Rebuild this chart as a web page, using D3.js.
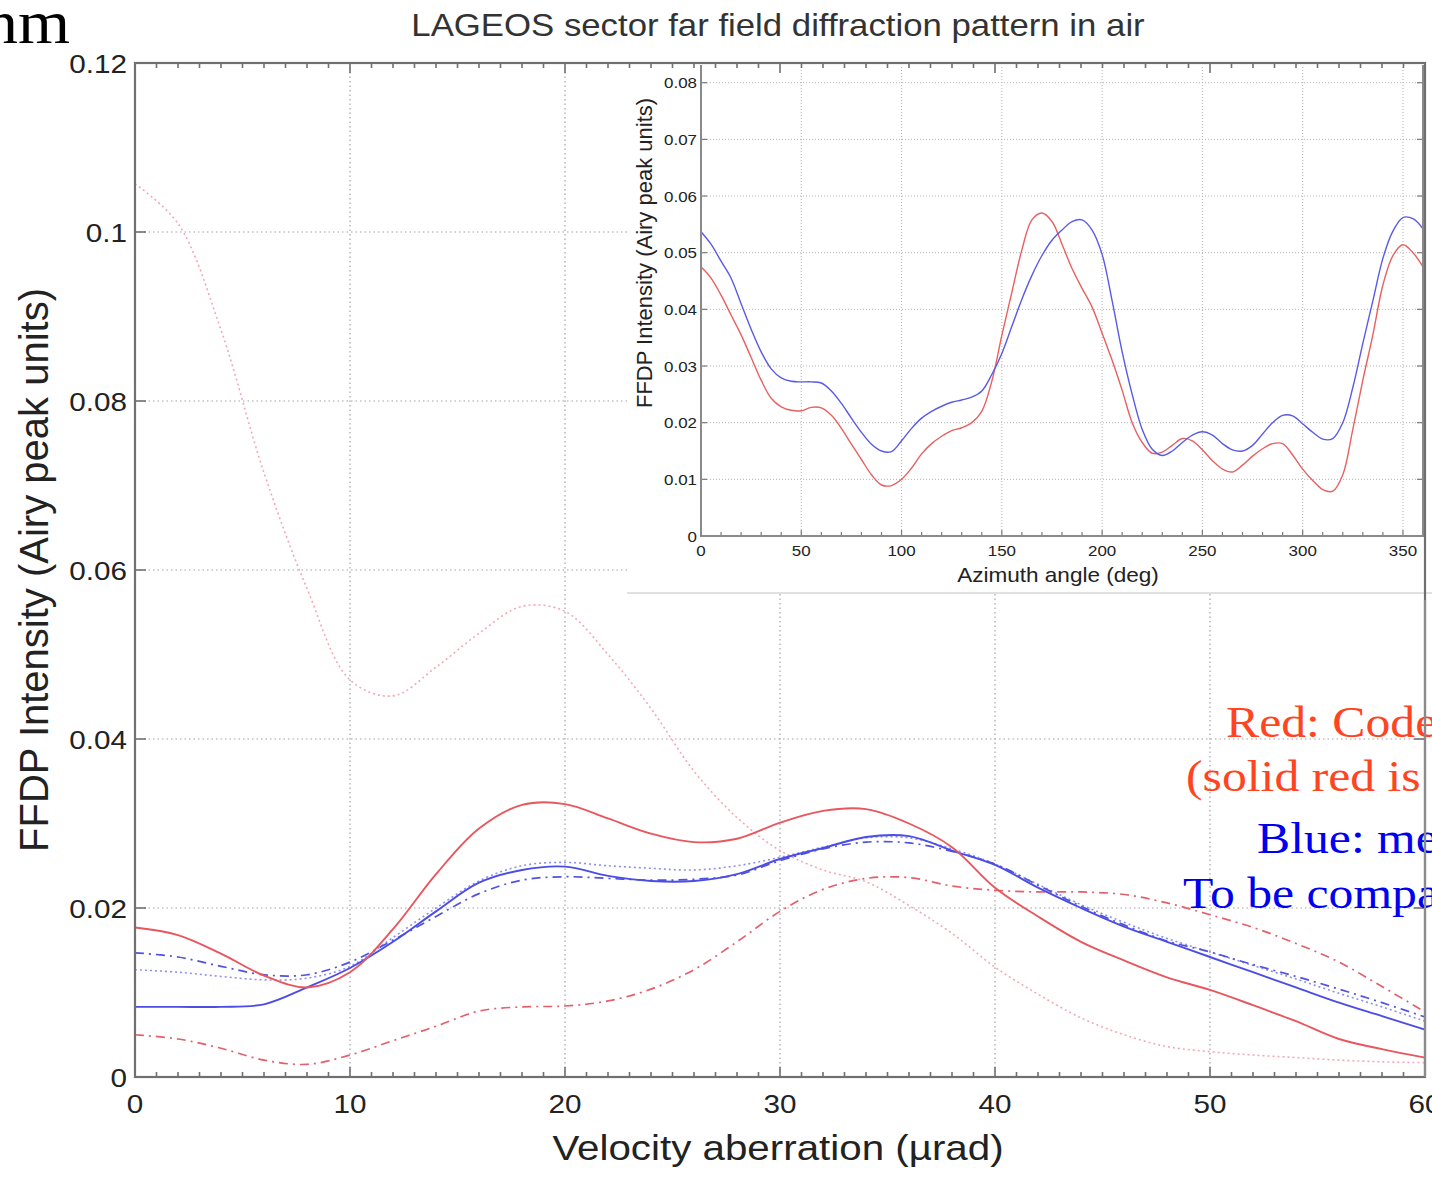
<!DOCTYPE html>
<html>
<head>
<meta charset="utf-8">
<script src="https://cdn.jsdelivr.net/npm/d3@7"></script>
<style>
  html, body { margin: 0; padding: 0; background: #fff; overflow: hidden; }
  svg text { font-family: "Liberation Sans", Arial, sans-serif; }
  svg text.serif { font-family: "Liberation Serif", "Times New Roman", serif; }
</style>
</head>
<body>
<script>
// ---- main plot data: velocity aberration (urad) vs FFDP intensity ----
const vaX = [0, 2, 4, 6, 8, 10, 12, 14, 16, 18, 20, 22, 24, 26, 28, 30,
             32, 34, 36, 38, 40, 42, 44, 46, 48, 50, 52, 54, 56, 58, 60];

const redSolid = [0.0177, 0.0168, 0.0146, 0.0120, 0.0106, 0.0124, 0.0175, 0.0240, 0.0294, 0.0322, 0.0323,
                  0.0306, 0.0288, 0.0278, 0.0282, 0.0301, 0.0315, 0.0317, 0.0300, 0.0272, 0.0224,
                  0.0190, 0.0160, 0.0138, 0.0118, 0.0103, 0.0085, 0.0066, 0.0045, 0.0033, 0.0023];
const redDashDot = [0.0050, 0.0045, 0.0034, 0.0020, 0.0015, 0.0026, 0.0043, 0.0060, 0.0078, 0.0083, 0.0084,
                    0.0090, 0.0104, 0.0127, 0.0160, 0.0196, 0.0222, 0.0235, 0.0236, 0.0226, 0.0221,
                    0.0219, 0.0219, 0.0216, 0.0206, 0.0192, 0.0177, 0.0158, 0.0136, 0.0107, 0.0077];
const redDotted = [0.1057, 0.1010, 0.0884, 0.0715, 0.0578, 0.0470, 0.0451, 0.0485, 0.0525, 0.0557, 0.0551,
                   0.0500, 0.0436, 0.0362, 0.0307, 0.0268, 0.0245, 0.0231, 0.0203, 0.0170, 0.0130,
                   0.0098, 0.0070, 0.0050, 0.0036, 0.0030, 0.0026, 0.0023, 0.0020, 0.0018, 0.0017];
const blueSolid = [0.0083, 0.0083, 0.0083, 0.0086, 0.0106, 0.0129, 0.0160, 0.0196, 0.0230, 0.0245, 0.0249,
                   0.0238, 0.0232, 0.0232, 0.0240, 0.0258, 0.0271, 0.0284, 0.0285, 0.0268, 0.0251,
                   0.0224, 0.0200, 0.0178, 0.0160, 0.0142, 0.0124, 0.0106, 0.0088, 0.0072, 0.0056];
const blueDashDot = [0.0147, 0.0142, 0.0131, 0.0121, 0.0121, 0.0136, 0.0162, 0.0190, 0.0217, 0.0233, 0.0237,
                     0.0235, 0.0233, 0.0234, 0.0239, 0.0256, 0.0270, 0.0278, 0.0277, 0.0267, 0.0252,
                     0.0227, 0.0202, 0.0180, 0.0161, 0.0148, 0.0133, 0.0119, 0.0104, 0.0088, 0.0071];
const blueDotted = [0.0127, 0.0124, 0.0119, 0.0115, 0.0117, 0.0131, 0.0165, 0.0200, 0.0232, 0.0250, 0.0254,
                    0.0250, 0.0247, 0.0245, 0.0250, 0.0260, 0.0272, 0.0283, 0.0283, 0.0270, 0.0252,
                    0.0228, 0.0204, 0.0183, 0.0164, 0.0148, 0.0132, 0.0116, 0.0099, 0.0083, 0.0066];

const mainXTicks = [0, 10, 20, 30, 40, 50, 60];
const mainYTicks = [0, 0.02, 0.04, 0.06, 0.08, 0.1, 0.12];

// ---- inset data: azimuth angle (deg) ----
const azimuth = [0, 5, 10, 15, 20, 25, 30, 35, 40, 45, 50, 55, 60, 65, 70, 75, 80, 85, 90, 95,
                 100, 105, 110, 115, 120, 125, 130, 135, 140, 145, 150, 155, 160, 165, 170, 175,
                 180, 185, 190, 195, 200, 205, 210, 215, 220, 225, 230, 235, 240, 245, 250, 255,
                 260, 265, 270, 275, 280, 285, 290, 295, 300, 305, 310, 315, 320, 325, 330, 335,
                 340, 345, 350, 355, 360];
const insetBlue = [0.0537, 0.0515, 0.0485, 0.0455, 0.0410, 0.0365, 0.0325, 0.0295, 0.0279, 0.0273,
                   0.0272, 0.0272, 0.0270, 0.0256, 0.0234, 0.0208, 0.0183, 0.0162, 0.0150, 0.0149,
                   0.0168, 0.0190, 0.0208, 0.0220, 0.0229, 0.0236, 0.0240, 0.0245, 0.0256, 0.0285,
                   0.0322, 0.0370, 0.0418, 0.0460, 0.0495, 0.0522, 0.0540, 0.0555, 0.0558, 0.0540,
                   0.0497, 0.0415, 0.0325, 0.0250, 0.0188, 0.0153, 0.0142, 0.0150, 0.0165, 0.0178,
                   0.0184, 0.0178, 0.0163, 0.0152, 0.0150, 0.0160, 0.0180, 0.0200, 0.0213, 0.0212,
                   0.0198, 0.0183, 0.0171, 0.0172, 0.0200, 0.0262, 0.0340, 0.0415, 0.0490, 0.0538,
                   0.0562, 0.0560, 0.0542];
const insetRed = [0.0475, 0.0455, 0.0425, 0.0390, 0.0355, 0.0315, 0.0275, 0.0243, 0.0228, 0.0222,
                  0.0221, 0.0227, 0.0226, 0.0213, 0.0190, 0.0162, 0.0135, 0.0108, 0.0090, 0.0089,
                  0.0100, 0.0120, 0.0145, 0.0163, 0.0176, 0.0186, 0.0191, 0.0200, 0.0220, 0.0273,
                  0.0354, 0.0430, 0.0505, 0.0558, 0.0570, 0.0555, 0.0515, 0.0472, 0.0437, 0.0404,
                  0.0358, 0.0310, 0.0257, 0.0200, 0.0165, 0.0146, 0.0148, 0.0160, 0.0172, 0.0168,
                  0.0152, 0.0133, 0.0118, 0.0113, 0.0125, 0.0141, 0.0154, 0.0163, 0.0163, 0.0143,
                  0.0118, 0.0098, 0.0082, 0.0079, 0.0108, 0.0188, 0.0275, 0.0355, 0.0443, 0.0495,
                  0.0514, 0.0500, 0.0475];

const insetXTicks = [0, 50, 100, 150, 200, 250, 300, 350];
const insetYTicks = [0, 0.01, 0.02, 0.03, 0.04, 0.05, 0.06, 0.07, 0.08];

const noteLines = [
  { text: "Red: Code", color: "#ff4422" },
  { text: "(solid red is n", color: "#ff4422" },
  { text: "Blue: mea", color: "#0000f0" },
  { text: "To be compar", color: "#0000f0" }
];

// ---- layout ----
const W = 1432, H = 1179;
const S = 1.12;   // glyphs in the picture are a little wider than tall

const svg = d3.select("body").append("svg")
  .attr("width", W)
  .attr("height", H)
  .style("background", "#fff");

const x = d3.scaleLinear().domain([0, 60]).range([135, 1425]);
const y = d3.scaleLinear().domain([0, 0.12]).range([1077, 63]);

function stext(parent, px, py, str, size, anchor, sx) {
  return parent.append("text")
    .attr("transform", `translate(${px},${py}) scale(${sx || S},1)`)
    .attr("text-anchor", anchor || "middle")
    .attr("font-size", size)
    .text(str);
}

// grid
const grid = svg.append("g")
  .attr("stroke", "#a4a4a4")
  .attr("stroke-width", 1.2)
  .attr("stroke-dasharray", "1.5,3");
mainXTicks.slice(1, -1).forEach(t => {
  grid.append("line").attr("x1", x(t)).attr("x2", x(t)).attr("y1", y(0)).attr("y2", y(0.12));
});
mainYTicks.slice(1, -1).forEach(t => {
  grid.append("line").attr("x1", x(0)).attr("x2", x(60)).attr("y1", y(t)).attr("y2", y(t));
});

// curves
const mainLine = d3.line()
  .x((d, i) => x(vaX[i]))
  .y(d => y(d))
  .curve(d3.curveCatmullRom.alpha(0.5));

const mainSeries = [
  { vals: redDotted, color: "#f4a8b4", width: 1.6, dash: "2,3" },
  { vals: blueDotted, color: "#8e8ef2", width: 1.6, dash: "2,3" },
  { vals: redDashDot, color: "#e2606c", width: 1.7, dash: "9,5,2,5" },
  { vals: blueDashDot, color: "#5252dc", width: 1.7, dash: "9,5,2,5" },
  { vals: blueSolid, color: "#4c4ce6", width: 1.9, dash: null },
  { vals: redSolid, color: "#e8565e", width: 1.9, dash: null }
];
mainSeries.forEach(s => {
  svg.append("path")
    .attr("d", mainLine(s.vals))
    .attr("fill", "none")
    .attr("stroke", s.color)
    .attr("stroke-width", s.width)
    .attr("stroke-dasharray", s.dash);
});

// ---- inset ----
const ix = d3.scaleLinear().domain([0, 360]).range([701, 1423]);
const iy = d3.scaleLinear().domain([0, 0.08]).range([536, 82.7]);
const insetTop = 65;

svg.append("rect")
  .attr("x", 627).attr("y", insetTop - 1)
  .attr("width", W - 627).attr("height", 593 - insetTop + 1)
  .attr("fill", "#fff");
svg.append("line")
  .attr("x1", 627).attr("x2", W).attr("y1", 593).attr("y2", 593)
  .attr("stroke", "#c4c4c4").attr("stroke-width", 1.2);

const igrid = svg.append("g")
  .attr("stroke", "#b4b4b4")
  .attr("stroke-width", 1)
  .attr("stroke-dasharray", "1,2");
insetXTicks.slice(1).forEach(t => {
  igrid.append("line").attr("x1", ix(t)).attr("x2", ix(t)).attr("y1", iy(0)).attr("y2", insetTop);
});
insetYTicks.slice(1).forEach(t => {
  igrid.append("line").attr("x1", ix(0)).attr("x2", ix(360)).attr("y1", iy(t)).attr("y2", iy(t));
});

const insetLine = d3.line()
  .x((d, i) => ix(azimuth[i]))
  .y(d => iy(d))
  .curve(d3.curveCatmullRom.alpha(0.5));

svg.append("path").attr("d", insetLine(insetRed))
  .attr("fill", "none").attr("stroke", "#e86060").attr("stroke-width", 1.4);
svg.append("path").attr("d", insetLine(insetBlue))
  .attr("fill", "none").attr("stroke", "#5a5ae6").attr("stroke-width", 1.4);

// inset ticks
const itk = svg.append("g").attr("stroke", "#7a7a7a").attr("stroke-width", 1.2);
d3.range(10, 360, 10).forEach(t => {
  const len = t % 50 === 0 ? 6 : 4;
  itk.append("line").attr("x1", ix(t)).attr("x2", ix(t)).attr("y1", iy(0)).attr("y2", iy(0) - len);
});
insetYTicks.slice(1).forEach(t => {
  itk.append("line").attr("x1", ix(0)).attr("x2", ix(0) + 6).attr("y1", iy(t)).attr("y2", iy(t));
  itk.append("line").attr("x1", ix(360)).attr("x2", ix(360) - 6).attr("y1", iy(t)).attr("y2", iy(t));
});
svg.append("path")
  .attr("d", `M${ix(0)},${insetTop}V${iy(0)}H${ix(360)}V${insetTop}`)
  .attr("fill", "none").attr("stroke", "#8a8a8a").attr("stroke-width", 2);

const ilab = svg.append("g").attr("fill", "#222");
insetYTicks.forEach(t => {
  stext(ilab, ix(0) - 4, iy(t) + 5.5, t === 0 ? "0" : t.toFixed(2), 15.4, "end", 1.1);
});
insetXTicks.forEach(t => {
  stext(ilab, ix(t), 556, String(t), 15.4, "middle", 1.1);
});
stext(ilab, 1058, 582, "Azimuth angle (deg)", 20.5, "middle", 1.1);
ilab.append("text")
  .attr("transform", "translate(652,253) rotate(-90)")
  .attr("text-anchor", "middle")
  .attr("font-size", 22)
  .text("FFDP Intensity (Airy peak units)");

// ---- main axes (drawn on top) ----
const tk = svg.append("g").attr("stroke", "#707070").attr("stroke-width", 1.6);
d3.range(1, 60, 1).forEach(t => {
  const len = t % 10 === 0 ? 10 : 5;
  tk.append("line").attr("x1", x(t)).attr("x2", x(t)).attr("y1", y(0)).attr("y2", y(0) - len);
  tk.append("line").attr("x1", x(t)).attr("x2", x(t)).attr("y1", y(0.12)).attr("y2", y(0.12) + len);
});
mainYTicks.slice(1, -1).forEach(t => {
  tk.append("line").attr("x1", x(0)).attr("x2", x(0) + 11).attr("y1", y(t)).attr("y2", y(t));
  if (t < 0.06) {
    tk.append("line").attr("x1", x(60)).attr("x2", x(60) - 11).attr("y1", y(t)).attr("y2", y(t));
  }
});
svg.append("rect")
  .attr("x", x(0)).attr("y", y(0.12))
  .attr("width", x(60) - x(0)).attr("height", y(0) - y(0.12))
  .attr("fill", "none").attr("stroke", "#707070").attr("stroke-width", 2.2);

const lab = svg.append("g").attr("fill", "#222");
mainYTicks.forEach(t => {
  const s = t === 0 ? "0" : (t === 0.1 ? "0.1" : t.toFixed(2));
  stext(lab, x(0) - 8, y(t) + 9.5, s, 26.5, "end");
});
mainXTicks.forEach(t => {
  stext(lab, x(t), 1113, String(t), 26.5, "middle");
});
stext(lab, 778, 1160, "Velocity aberration (\u00b5rad)", 36, "middle");
lab.append("text")
  .attr("transform", "translate(48,570) rotate(-90)")
  .attr("text-anchor", "middle")
  .attr("font-size", 40)
  .text("FFDP Intensity (Airy peak units)");
stext(lab, 778, 36, "LAGEOS sector far field diffraction pattern in air", 30.5, "middle", 1.14)
  .attr("fill", "#333");

// ---- slide text ----
stext(svg, 70, 43, "nm", 62, "end", 1.08).attr("class", "serif").attr("fill", "#000");

const noteX = [1226, 1186, 1257, 1183];
const noteY = [737, 791, 853, 908];
noteLines.forEach((n, i) => {
  stext(svg, noteX[i], noteY[i], n.text, 44, "start", 1.13)
    .attr("class", "serif")
    .attr("fill", n.color);
});
// the slide's right frame line sits over the notes
svg.append("line")
  .attr("x1", x(60)).attr("x2", x(60)).attr("y1", 600).attr("y2", y(0))
  .attr("stroke", "#8a8a8a").attr("stroke-width", 2.2);
</script>
</body>
</html>
